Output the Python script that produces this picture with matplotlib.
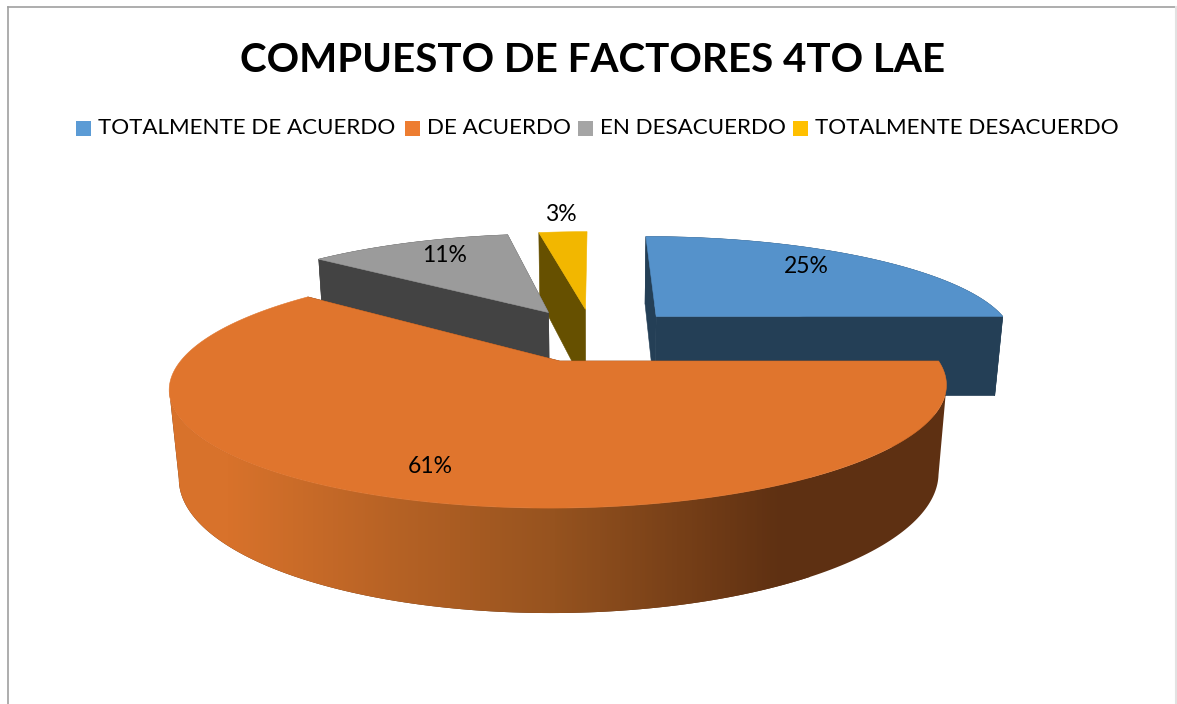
#!/usr/bin/env python

import matplotlib
matplotlib.use("Agg")
import matplotlib.pyplot as plt
import numpy as np
from matplotlib.colors import LinearSegmentedColormap
from matplotlib.patches import Polygon, Rectangle

TITLE = "COMPUESTO DE FACTORES 4TO LAE"
CATEGORIES = [
    "TOTALMENTE DE ACUERDO",
    "DE ACUERDO",
    "EN DESACUERDO",
    "TOTALMENTE DESACUERDO",
]
VALUES = [25, 61, 11.3, 2.7]

LEGEND_COLORS = ["#5B9BD5", "#ED7D31", "#A5A5A5", "#FFC000"]
TOP_COLORS = ["#5592CB", "#E0752D", "#9B9B9B", "#F2B700"]
SIDE_COLORS = ["#243F56", "#5E3012", "#434343", "#665000"]
LABEL_RADIUS = [0.81, 0.81, 0.81, 1.39]
LABEL_NUDGE = [(-22, 1), (3, 0), (13, -1), (5, -6)]
LEGEND_X = [76, 405, 578, 793]

# camera, fitted by eye against the picture (pixels)
X0, Y0 = 595, 361
SCALE_X, SCALE_Y, DEPTH_K, DEPTH_M, HEIGHT = 379, 114.7, 0.22, 0.022, 87.4
PIE_CENTER = (-0.006, 0.2425)
EXPLODE = 0.258


def project(x, y, t=0.0):
    d = 1 + DEPTH_K * y + DEPTH_M * t
    return X0 + SCALE_X * x / d, Y0 + (-SCALE_Y * y + HEIGHT * t) / d


plt.rcParams["font.family"] = ["Lato", "DejaVu Sans"]

fig = plt.figure(figsize=(11.77, 7.04), dpi=100)
ax = fig.add_axes([0, 0, 1, 1])
ax.set_xlim(0, 1177)
ax.set_ylim(704, 0)
ax.axis("off")

# chart frame
ax.plot([8, 8], [704, 6.5], color="#A0A0A0", lw=1.2)
ax.plot([8, 1176], [6.5, 6.5], color="#A0A0A0", lw=1.2)
ax.plot([1176, 1176], [6.5, 704], color="#E2E2E2", lw=1.5)

ax.text(592.5, 60, TITLE, fontsize=29.1, fontweight="bold", ha="center", va="center")

for name, color, lx in zip(CATEGORIES, LEGEND_COLORS, LEGEND_X):
    ax.add_patch(Rectangle((lx, 121), 15, 15, color=color, lw=0))
    ax.text(lx + 22, 128.5, name, fontsize=16.1, ha="left", va="center")

wall_cmap = LinearSegmentedColormap.from_list(
    "wall",
    [
        (0.0, "#D8722B"),
        (0.09, "#D8722B"),
        (0.6, "#96531F"),
        (0.96, SIDE_COLORS[1]),
        (1.0, SIDE_COLORS[1]),
    ],
)

total = sum(VALUES)
start = 0.0
slices = []
for i, value in enumerate(VALUES):
    end = start + 2 * np.pi * value / total
    slices.append((i, start, end))
    start = end

# back slices first, the big orange one last
for i, a0, a1 in [slices[3], slices[2], slices[0], slices[1]]:
    mid = (a0 + a1) / 2
    apex = (
        PIE_CENTER[0] + EXPLODE * np.sin(mid),
        PIE_CENTER[1] + EXPLODE * np.cos(mid),
    )
    angles = np.linspace(a0, a1, 240)
    rim = [(apex[0] + np.sin(a), apex[1] + np.cos(a)) for a in angles]
    color = SIDE_COLORS[i]

    # yellow's right face barely shows in the reference
    for p in (rim[0],) if i == 3 else (rim[0], rim[-1]):
        face = [project(*apex), project(*p), project(*p, 1.0), project(*apex, 1.0)]
        ax.add_patch(Polygon(face, closed=True, fc=color, ec=color, lw=0.4))

    if i == 1:
        # only the front of the wall shows, between the two silhouette points
        xs = [project(*p)[0] for p in rim]
        front = rim[int(np.argmax(xs)) : int(np.argmin(xs)) + 1]
        wall = [project(*p) for p in front] + [project(*p, 1.0) for p in front[::-1]]
        patch = Polygon(wall, closed=True, fc=color, ec="none")
        ax.add_patch(patch)
        # orange wall goes dark from left to right, past 810 it stays dark
        gradient = np.linspace(0, 1, 640).reshape(1, -1)
        ax.imshow(
            gradient,
            cmap=wall_cmap,
            extent=(170, 810, 640, 340),
            aspect="auto",
            clip_path=patch,
            zorder=1,
        )
        ax.set_xlim(0, 1177)
        ax.set_ylim(704, 0)
    elif i != 3:
        wall = [project(*p) for p in rim] + [project(*p, 1.0) for p in rim[::-1]]
        ax.add_patch(Polygon(wall, closed=True, fc=color, ec=color, lw=0.4))

    top = [project(*apex)] + [project(*p) for p in rim]
    ax.add_patch(
        Polygon(top, closed=True, fc=TOP_COLORS[i], ec=TOP_COLORS[i], lw=0.4, zorder=2)
    )

    lx = apex[0] + LABEL_RADIUS[i] * np.sin(mid)
    ly = apex[1] + LABEL_RADIUS[i] * np.cos(mid)
    ax.annotate(
        f"{VALUES[i]:.0f}%",
        project(lx, ly),
        xytext=LABEL_NUDGE[i],
        textcoords="offset pixels",
        fontsize=16.5,
        ha="center",
        va="center",
        zorder=3,
    )

fig.savefig("out.png", dpi=100)
